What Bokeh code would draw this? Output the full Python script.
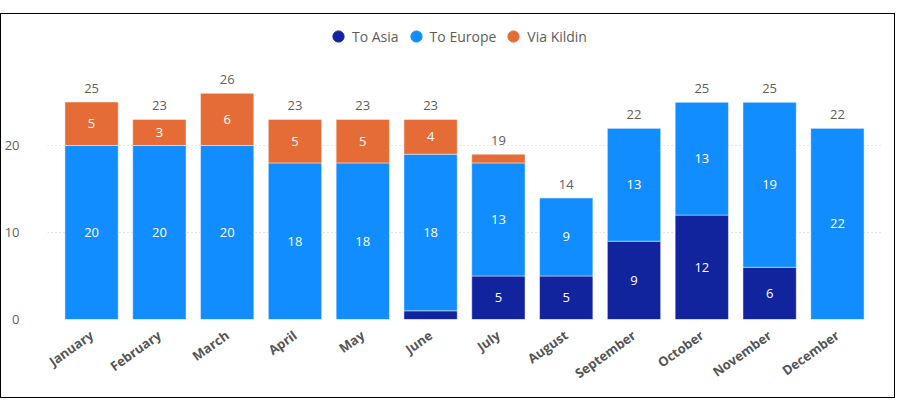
from bokeh.plotting import figure
from bokeh.models import ColumnDataSource, Range1d, FactorRange, FixedTicker, Legend, LegendItem
from bokeh.embed import file_html
from bokeh.resources import INLINE
from bokeh.core.properties import value

months = ["January", "February", "March", "April", "May", "June", "July",
          "August", "September", "October", "November", "December"]
to_asia = [0, 0, 0, 0, 0, 1, 5, 5, 9, 12, 6, 0]
to_europe = [20, 20, 20, 18, 18, 18, 13, 9, 13, 13, 19, 22]
via_kildin = [5, 3, 6, 5, 5, 4, 1, 0, 0, 0, 0, 0]
series_names = ["To Asia", "To Europe", "Via Kildin"]
colors = ["#12239E", "#118DFF", "#E66C37"]
y_ticks = [0, 10, 20]

FONT = "Open Sans"
GRAY = "#605E5C"

W, H = 895, 385
BL, BR, BT, BB = 36, 15, 4, 80

totals = [a + e + k for a, e, k in zip(to_asia, to_europe, via_kildin)]

src = ColumnDataSource(dict(month=months, asia=to_asia, europe=to_europe, kildin=via_kildin,
                            total=totals, total_txt=[str(t) for t in totals]))

p = figure(width=W, height=H, output_backend="svg", toolbar_location=None,
           x_range=FactorRange(factors=months, range_padding=0.15, range_padding_units="absolute"),
           y_range=Range1d(0, 34.6),
           min_border_left=BL, min_border_right=BR, min_border_bottom=BB, min_border_top=BT)
p.outline_line_color = None
p.styles = {"border": "1.5px solid #000000", "margin-top": "13px"}

rs = p.vbar_stack(["asia", "europe", "kildin"], x="month", width=0.786, source=src,
                  color=colors, line_color="white", line_alpha=0.45, line_width=1)

lx, ly, lt = [], [], []
for i in range(len(months)):
    base = 0
    for v in (to_asia[i], to_europe[i], via_kildin[i]):
        if v >= 2:
            lx.append(months[i]); ly.append(base + v / 2); lt.append(str(v))
        base += v
lsrc = ColumnDataSource(dict(x=lx, y=ly, t=lt))
p.text(x="x", y="y", text="t", source=lsrc, text_color="white",
       text_font=value(FONT), text_font_size="13px", text_align="center",
       text_baseline="middle")

p.text(x="month", y="total", text="total_txt", source=src, text_color=GRAY,
       text_font=value(FONT), text_font_size="13px", text_align="center",
       text_baseline="bottom", y_offset=-9)

# legend inside the (extended) frame, offsets in screen px from frame bottom-left
nan = float("nan")
legend_r = [p.scatter(x=[nan], y=[nan], marker="circle", color=c) for c in colors]
legend = Legend(items=[LegendItem(label=n, renderers=[d]) for n, d in zip(series_names, legend_r)],
                orientation="horizontal", location=(277, 269), border_line_color=None,
                background_fill_alpha=0, label_text_font=FONT, label_text_font_size="14px",
                label_text_color=GRAY, glyph_width=28, glyph_height=28, label_standoff=0,
                spacing=3, padding=0, margin=0)
p.add_layout(legend)

p.xaxis.major_label_orientation = 0.62
p.xaxis.major_label_text_font = FONT
p.xaxis.major_label_text_font_style = "bold"
p.xaxis.major_label_text_font_size = "13px"
p.xaxis.major_label_text_color = "#555555"
p.xaxis.axis_line_color = None
p.xaxis.major_tick_line_color = None
p.xaxis.minor_tick_line_color = None
p.xaxis.major_label_standoff = 8

p.yaxis.ticker = FixedTicker(ticks=y_ticks)
p.yaxis.major_label_text_font = FONT
p.yaxis.major_label_text_font_size = "13px"
p.yaxis.major_label_text_color = GRAY
p.yaxis.axis_line_color = None
p.yaxis.major_tick_line_color = None
p.yaxis.minor_tick_line_color = None
p.yaxis.major_label_standoff = 22

p.xgrid.grid_line_color = None
p.ygrid.ticker = FixedTicker(ticks=y_ticks)
p.ygrid.grid_line_color = "#C8C6C4"
p.ygrid.grid_line_dash = "1 3"

open("out.html", "w").write(file_html(p, INLINE))
